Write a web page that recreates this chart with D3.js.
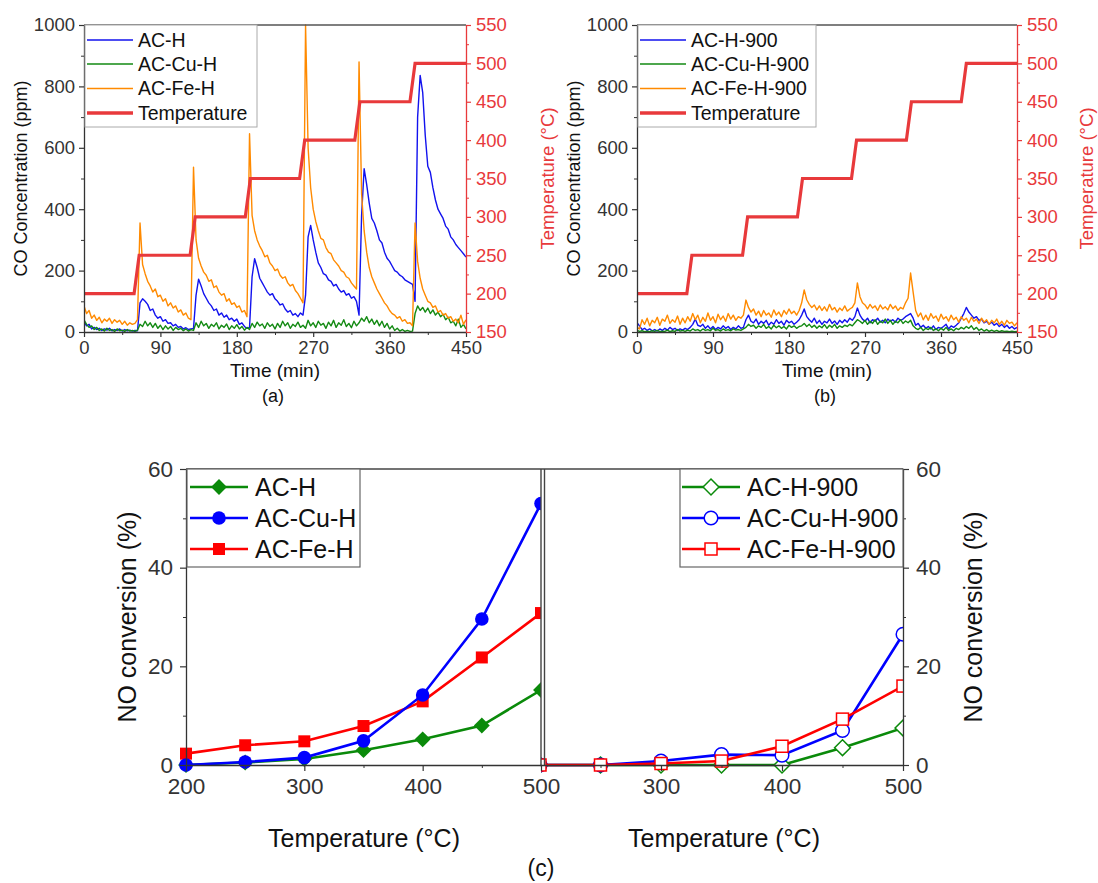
<!DOCTYPE html>
<html><head><meta charset="utf-8">
<script src="https://cdn.jsdelivr.net/npm/d3@7"></script>
<style>body{margin:0;background:#fff}svg{display:block}</style>
</head><body><svg id="c" width="1098" height="883"></svg>
<script>
// ---------- data ----------
const sampleMinutes = 3; // CO traces sampled every 3 min from 0 to 450
const timeTicks = [0, 90, 180, 270, 360, 450];
const timeMinor = [45, 135, 225, 315, 405];
const coTicks = [0, 200, 400, 600, 800, 1000];
const coMinor = [100, 300, 500, 700, 900];
const tempTicks = [150, 200, 250, 300, 350, 400, 450, 500, 550];
const tempMinor = [175, 225, 275, 325, 375, 425, 475, 525];
const tempTime = [0, 59, 65, 125, 131, 190, 196, 254, 260, 319, 325, 384, 390, 450];
const tempVal  = [200, 200, 250, 250, 300, 300, 350, 350, 400, 400, 450, 450, 500, 500];

const coACH = [35,20,25,10,15,8,12,5,10,6, 12,4,8,5,10,3,8,4,6,3,
 5,4,95,108,100,90,70,75,55,45, 50,35,40,28,30,20,25,15,18,10,
 14,8,10,12,120,172,150,125,110,95, 85,70,75,55,62,48,55,40,45,35,
 42,25,30,18,12,15,180,239,210,175, 160,145,130,120,125,108,100,88,92,75,
 65,70,55,60,50,62,55,120,310,347, 300,260,225,210,190,185,170,165,150,155,
 140,130,135,120,125,110,115,100,55,380, 532,480,420,370,355,330,300,290,260,240,
 230,215,200,195,185,180,170,165,160,155, 100,700,836,780,640,540,520,470,430,400,
 385,370,345,335,310,300,285,275,265,255, 244];
const coACCuH = [40,25,15,20,8,15,5,10,3,12, 5,8,2,10,4,6,2,8,3,5,
 2,6,25,18,35,20,30,15,28,12, 22,8,20,10,18,5,15,8,12,4,
 10,3,8,5,30,15,35,20,28,12, 25,18,30,10,22,15,26,8,20,12,
 24,10,18,6,15,8,28,15,32,20, 26,12,30,18,25,10,28,15,35,20,
 30,12,25,18,32,15,22,12,38,20, 30,15,35,22,28,12,32,20,38,15,
 30,22,40,18,28,14,35,20,30,45, 35,50,30,42,25,38,20,35,15,28,
 10,20,5,12,3,8,2,5,2,3, 60,85,70,80,65,78,60,72,55,65,
 50,58,40,48,30,35,20,42,15,25, 10];
const coACFeH = [85,60,70,45,55,38,48,30,42,35, 45,28,40,32,38,25,35,22,30,25,
 28,40,355,220,190,165,150,130,140,115, 120,100,108,85,95,78,85,65,72,55,
 62,45,40,537,300,240,215,195,185,165, 170,145,150,130,120,125,100,108,90,95,
 80,85,65,70,50,646,380,330,300,280, 265,245,250,225,215,200,205,185,175,180,
 160,150,155,135,125,110,95,1000,600,470, 400,360,330,305,300,275,260,255,235,225,
 215,200,195,180,175,160,150,140,880,450, 330,260,210,180,160,140,125,110,95,85,
 70,60,55,45,50,35,40,28,30,20, 355,230,175,140,120,100,95,80,85,65,
 70,55,60,45,50,35,42,30,55,25, 40];

const coACH900 = [30,20,8,12,5,10,4,8,3,10, 5,12,6,15,8,12,5,10,6,12,
 8,15,25,42,22,18,25,12,20,10, 18,8,15,10,20,12,18,8,15,10,
 20,12,15,40,55,35,30,42,25,35, 28,38,22,32,25,40,28,35,22,38,
 30,35,25,32,40,55,75,50,40,32, 45,28,38,25,35,30,42,28,36,25,
 38,30,40,32,45,38,50,78,55,42, 35,45,30,40,35,45,32,38,30,42,
 35,40,32,45,38,42,50,55,60,45, 22,28,15,22,12,18,10,20,8,15,
 12,18,25,10,20,15,22,30,45,60, 80,65,55,45,50,38,42,30,35,25,
 32,22,28,18,25,15,22,12,18,10, 15];
const coACCuH900 = [5,2,4,1,3,1,4,2,5,1, 3,2,6,1,4,2,8,3,5,2,
 6,3,10,5,8,3,10,5,8,4, 12,5,8,3,10,5,8,4,10,6,
 8,5,10,15,25,18,22,12,20,15, 25,12,18,10,22,14,20,12,18,10,
 22,15,20,12,18,20,28,18,25,15, 22,12,20,14,24,12,22,15,25,12,
 20,15,22,18,25,20,30,40,35,28, 38,25,35,28,40,25,35,30,42,28,
 38,25,35,30,40,28,36,30,38,20, 12,8,15,5,12,8,15,5,10,4,
 12,6,15,5,10,4,12,8,15,10, 18,12,20,8,15,5,10,3,8,2,
 6,2,5,1,4,2,3,1,3,1, 2];
const coACFeH900 = [15,10,40,25,45,20,38,30,48,22, 42,35,55,28,40,32,52,25,45,30,
 50,35,60,40,55,30,48,35,62,38, 50,30,58,40,52,35,60,42,55,38,
 50,45,55,104,80,65,75,55,68,50, 70,55,62,48,72,55,65,50,70,58,
 75,60,68,55,70,95,137,105,90,80, 88,72,85,70,82,68,90,72,80,65,
 78,70,85,68,75,80,95,160,115,95, 88,75,90,78,85,70,88,75,82,72,
 90,76,85,70,80,75,95,110,192,130, 70,50,62,40,55,38,60,45,52,35,
 58,42,50,35,55,40,48,32,50,38, 45,30,48,35,42,28,45,32,40,25,
 38,30,42,25,35,22,38,28,32,20, 30];

// panel (c)
const noTemp = [200, 250, 300, 350, 400, 450, 500];
const noTicksX = [200, 300, 400, 500];
const noTicksXR = [300, 400, 500];
const noMinorX = [250, 350, 450];
const noTicksY = [0, 20, 40, 60];
const noMinorY = [10, 30, 50];
const noACH = [0, 0.5, 1.2, 3.0, 5.2, 8.0, 15.2];
const noACCuH = [0, 0.6, 1.5, 4.9, 14.2, 29.6, 53.0];
const noACFeH = [2.3, 4.0, 4.8, 7.9, 12.9, 21.8, 30.8];
const noACH900 = [0, 0, 0, 0, 0, 3.5, 7.5];
const noACCuH900 = [0, 0, 0.8, 2.1, 2.0, 7.0, 26.5];
const noACFeH900 = [0, 0, 0.3, 0.8, 3.8, 9.3, 16.0];

// ---------- drawing ----------
const FONT = '"Liberation Sans", Arial, Helvetica, sans-serif';
const BLUE = "#1212ee", GREEN = "#138a13", ORANGE = "#ff8a00", TRED = "#e8393b";
const svg = d3.select("#c").style("font-family", FONT);
const AX = "#333";
const fmt = d3.format("d");

function styleAxis(g, color, fs) {
  g.select(".domain").attr("stroke", color).attr("stroke-width", 1.3);
  g.selectAll(".tick line").attr("stroke", color).attr("stroke-width", 1.2);
  g.selectAll(".tick text").attr("fill", color).style("font-size", fs + "px").style("font-family", FONT);
}

function coPanel(o) {
  const yTop = 25, yBot = 332;
  const x = d3.scaleLinear().domain([0, 450]).range([o.x0, o.x1]);
  const y = d3.scaleLinear().domain([0, 1000]).range([yBot, yTop]);
  const yT = d3.scaleLinear().domain([150, 550]).range([yBot, yTop]);
  const g = svg.append("g");
  g.append("clipPath").attr("id", "clip" + o.tag).append("rect")
    .attr("x", o.x0).attr("y", yTop - 2).attr("width", o.x1 - o.x0).attr("height", yBot - yTop + 2);
  const plot = g.append("g").attr("clip-path", `url(#clip${o.tag})`);
  const line = d3.line().x((d, i) => x(i * sampleMinutes)).y(d => y(d));
  o.series.forEach(s => plot.append("path").datum(s.values).attr("d", line)
    .attr("fill", "none").attr("stroke", s.color).attr("stroke-width", 1.4).attr("stroke-linejoin", "round"));
  plot.append("path").datum(d3.zip(tempTime, tempVal))
    .attr("d", d3.line().x(d => x(d[0])).y(d => yT(d[1])))
    .attr("fill", "none").attr("stroke", TRED).attr("stroke-width", 3.2);

  g.append("line").attr("x1", o.x0).attr("x2", o.x1).attr("y1", yTop).attr("y2", yTop).attr("stroke", "#555").attr("stroke-width", 1.3);
  const xa = g.append("g").attr("transform", `translate(0,${yBot})`)
    .call(d3.axisBottom(x).tickValues(timeTicks).tickSize(5).tickSizeOuter(0).tickPadding(4).tickFormat(fmt));
  styleAxis(xa, AX, 18.5);
  const xm = g.append("g").attr("transform", `translate(0,${yBot})`)
    .call(d3.axisBottom(x).tickValues(timeMinor).tickSize(3).tickFormat(""));
  xm.select(".domain").remove(); xm.selectAll("line").attr("stroke", AX);
  const ya = g.append("g").attr("transform", `translate(${o.x0},0)`)
    .call(d3.axisLeft(y).tickValues(coTicks).tickSize(5).tickSizeOuter(0).tickPadding(4).tickFormat(fmt));
  styleAxis(ya, AX, 18.5);
  const ym = g.append("g").attr("transform", `translate(${o.x0},0)`)
    .call(d3.axisLeft(y).tickValues(coMinor).tickSize(3).tickFormat(""));
  ym.select(".domain").remove(); ym.selectAll("line").attr("stroke", AX);
  const yr = g.append("g").attr("transform", `translate(${o.x1},0)`)
    .call(d3.axisRight(yT).tickValues(tempTicks).tickSize(5).tickSizeOuter(0).tickPadding(5).tickFormat(fmt));
  styleAxis(yr, TRED, 18.5);
  const yrm = g.append("g").attr("transform", `translate(${o.x1},0)`)
    .call(d3.axisRight(yT).tickValues(tempMinor).tickSize(3).tickFormat(""));
  yrm.select(".domain").remove(); yrm.selectAll("line").attr("stroke", TRED);

  const cy = (yTop + yBot) / 2;
  g.append("text").attr("transform", `translate(${o.leftTitleX},${cy}) rotate(-90)`)
    .attr("text-anchor", "middle").attr("dy", "0.35em").style("font-size", "18px").attr("fill", "#111")
    .text("CO Concentration (ppm)");
  g.append("text").attr("transform", `translate(${o.rightTitleX},${cy}) rotate(-90)`)
    .attr("text-anchor", "middle").attr("dy", "0.35em").style("font-size", "18.5px").attr("fill", TRED)
    .text("Temperature (°C)");
  const mx = (o.x0 + o.x1) / 2;
  g.append("text").attr("x", mx).attr("y", 377).attr("text-anchor", "middle").style("font-size", "19px").attr("fill", "#111").text("Time (min)");
  g.append("text").attr("x", mx - 2).attr("y", 402).attr("text-anchor", "middle").style("font-size", "18px").attr("fill", "#111").text(o.tag === "a" ? "(a)" : "(b)");

  const lg = g.append("g");
  lg.append("rect").attr("x", o.x0 + 1).attr("y", yTop).attr("width", o.legendW).attr("height", 102)
    .attr("fill", "#fff").attr("stroke", "#aaa").attr("stroke-width", 1);
  const entries = o.series.map(s => ({label: s.label, color: s.color, w: 1.5})).concat([{label: "Temperature", color: TRED, w: 3.5}]);
  const ly = [40, 64, 88.5, 113];
  entries.forEach((e, i) => {
    lg.append("line").attr("x1", o.x0 + 3).attr("x2", o.x0 + 49).attr("y1", ly[i]).attr("y2", ly[i])
      .attr("stroke", e.color).attr("stroke-width", e.w);
    lg.append("text").attr("x", o.x0 + 54).attr("y", ly[i]).attr("dy", "0.35em")
      .style("font-size", "19.5px").attr("fill", "#111").text(e.label);
  });
}

coPanel({tag: "a", x0: 84, x1: 466, leftTitleX: 21, rightTitleX: 548, legendW: 172,
  series: [{label: "AC-H", values: coACH, color: BLUE},
           {label: "AC-Cu-H", values: coACCuH, color: GREEN},
           {label: "AC-Fe-H", values: coACFeH, color: ORANGE}]});
coPanel({tag: "b", x0: 637, x1: 1017, leftTitleX: 574, rightTitleX: 1087, legendW: 178,
  series: [{label: "AC-H-900", values: coACH900, color: BLUE},
           {label: "AC-Cu-H-900", values: coACCuH900, color: GREEN},
           {label: "AC-Fe-H-900", values: coACFeH900, color: ORANGE}]});

// ---------- panel (c) ----------
const C_GREEN = "#0a8a0a", C_BLUE = "#0000ff", C_RED = "#ff0000";
const yTopC = 469, yBotC = 765;
const xL = d3.scaleLinear().domain([200, 500]).range([186, 541]);
const xR = d3.scaleLinear().domain([200, 500]).range([540, 903]);
const yN = d3.scaleLinear().domain([0, 60]).range([yBotC, yTopC]);
const gc = svg.append("g");

function marker(sel, shape, s) {
  if (shape === "circle") return sel.append("circle").attr("r", s);
  if (shape === "square") return sel.append("rect").attr("x", -s).attr("y", -s).attr("width", 2 * s).attr("height", 2 * s);
  return sel.append("path").attr("d", `M0,${-s * 1.2}L${s * 1.2},0L0,${s * 1.2}L${-s * 1.2},0Z`);
}

gc.append("clipPath").attr("id", "clipCL").append("rect").attr("x", 170).attr("y", yTopC - 10).attr("width", 541 - 170).attr("height", 320);
gc.append("clipPath").attr("id", "clipCR").append("rect").attr("x", 541).attr("y", yTopC - 10).attr("width", 903 - 541).attr("height", 320);

const leftSeries = [
  {label: "AC-H", values: noACH, color: C_GREEN, shape: "diamond", order: 0},
  {label: "AC-Cu-H", values: noACCuH, color: C_BLUE, shape: "circle", order: 2},
  {label: "AC-Fe-H", values: noACFeH, color: C_RED, shape: "square", order: 1}];
const rightSeries = [
  {label: "AC-H-900", values: noACH900, color: C_GREEN, shape: "diamond", order: 0},
  {label: "AC-Cu-H-900", values: noACCuH900, color: C_BLUE, shape: "circle", order: 1},
  {label: "AC-Fe-H-900", values: noACFeH900, color: C_RED, shape: "square", order: 2}];
const msize = {circle: 6.8, square: 6, diamond: 6.6};

function drawNo(series, x, clip, filled) {
  const p = gc.append("g").attr("clip-path", `url(#${clip})`);
  series.slice().sort((a, b) => a.order - b.order).forEach(s => {
    const pts = d3.zip(noTemp, s.values);
    p.append("path").datum(pts).attr("d", d3.line().x(d => x(d[0])).y(d => yN(d[1])))
      .attr("fill", "none").attr("stroke", s.color).attr("stroke-width", 2.6);
    pts.forEach(d => {
      const m = marker(p.append("g").attr("transform", `translate(${x(d[0])},${yN(d[1])})`), s.shape, msize[s.shape]);
      if (filled) m.attr("fill", s.color);
      else m.attr("fill", "#fff").attr("stroke", s.color).attr("stroke-width", 1.5);
    });
  });
}
drawNo(leftSeries, xL, "clipCL", true);
drawNo(rightSeries, xR, "clipCR", false);

gc.append("line").attr("x1", 186).attr("x2", 903).attr("y1", yTopC).attr("y2", yTopC).attr("stroke", "#444").attr("stroke-width", 1.3);
[541, 544.5].forEach(xx => gc.append("line").attr("x1", xx).attr("x2", xx).attr("y1", yTopC).attr("y2", yBotC).attr("stroke", "#444").attr("stroke-width", 1.4));

const FS_C = 22.5;
const xaL = gc.append("g").attr("transform", `translate(0,${yBotC})`)
  .call(d3.axisBottom(xL).tickValues(noTicksX).tickSize(6).tickSizeOuter(0).tickPadding(7));
styleAxis(xaL, AX, FS_C);
const xaLm = gc.append("g").attr("transform", `translate(0,${yBotC})`).call(d3.axisBottom(xL).tickValues(noMinorX).tickSize(3).tickFormat(""));
xaLm.select(".domain").remove(); xaLm.selectAll("line").attr("stroke", AX);
const xaR = gc.append("g").attr("transform", `translate(0,${yBotC})`)
  .call(d3.axisBottom(xR).tickValues(noTicksXR).tickSize(6).tickSizeOuter(0).tickPadding(7));
styleAxis(xaR, AX, FS_C);
const xaRm = gc.append("g").attr("transform", `translate(0,${yBotC})`).call(d3.axisBottom(xR).tickValues(noMinorX).tickSize(3).tickFormat(""));
xaRm.select(".domain").remove(); xaRm.selectAll("line").attr("stroke", AX);

const yaL = gc.append("g").attr("transform", `translate(186,0)`)
  .call(d3.axisLeft(yN).tickValues(noTicksY).tickSize(6).tickSizeOuter(0).tickPadding(7));
styleAxis(yaL, AX, FS_C);
const yaLm = gc.append("g").attr("transform", `translate(186,0)`).call(d3.axisLeft(yN).tickValues(noMinorY).tickSize(3).tickFormat(""));
yaLm.select(".domain").remove(); yaLm.selectAll("line").attr("stroke", AX);
const yaR = gc.append("g").attr("transform", `translate(903,0)`)
  .call(d3.axisRight(yN).tickValues(noTicksY).tickSize(6).tickSizeOuter(0).tickPadding(7));
styleAxis(yaR, AX, FS_C);
const yaRm = gc.append("g").attr("transform", `translate(903,0)`).call(d3.axisRight(yN).tickValues(noMinorY).tickSize(3).tickFormat(""));
yaRm.select(".domain").remove(); yaRm.selectAll("line").attr("stroke", AX);

const cyC = (yTopC + yBotC) / 2;
gc.append("text").attr("transform", `translate(127,${cyC}) rotate(-90)`).attr("text-anchor", "middle").attr("dy", "0.35em")
  .style("font-size", "25px").attr("fill", "#111").text("NO conversion (%)");
gc.append("text").attr("transform", `translate(973,${cyC}) rotate(-90)`).attr("text-anchor", "middle").attr("dy", "0.35em")
  .style("font-size", "25px").attr("fill", "#111").text("NO conversion (%)");
gc.append("text").attr("x", 364).attr("y", 847).attr("text-anchor", "middle").style("font-size", "25px").attr("fill", "#111").text("Temperature (°C)");
gc.append("text").attr("x", 724).attr("y", 847).attr("text-anchor", "middle").style("font-size", "25px").attr("fill", "#111").text("Temperature (°C)");
gc.append("text").attr("x", 541).attr("y", 876).attr("text-anchor", "middle").style("font-size", "23px").attr("fill", "#111").text("(c)");

function legendC(series, bx, bw, lx0, filled) {
  const lg = gc.append("g");
  lg.append("rect").attr("x", bx).attr("y", yTopC).attr("width", bw).attr("height", 98)
    .attr("fill", "#fff").attr("stroke", "#666").attr("stroke-width", 1.2);
  const ly = [487, 518, 549];
  series.forEach((s, i) => {
    lg.append("line").attr("x1", lx0).attr("x2", lx0 + 58).attr("y1", ly[i]).attr("y2", ly[i]).attr("stroke", s.color).attr("stroke-width", 2.6);
    const m = marker(lg.append("g").attr("transform", `translate(${lx0 + 29},${ly[i]})`), s.shape, msize[s.shape]);
    if (filled) m.attr("fill", s.color); else m.attr("fill", "#fff").attr("stroke", s.color).attr("stroke-width", 1.5);
    lg.append("text").attr("x", lx0 + 65).attr("y", ly[i]).attr("dy", "0.35em").style("font-size", "25px").attr("fill", "#111").text(s.label);
  });
}
legendC(leftSeries, 187, 173, 190, true);
legendC(rightSeries, 680, 223, 682, false);
</script>
</body></html>
